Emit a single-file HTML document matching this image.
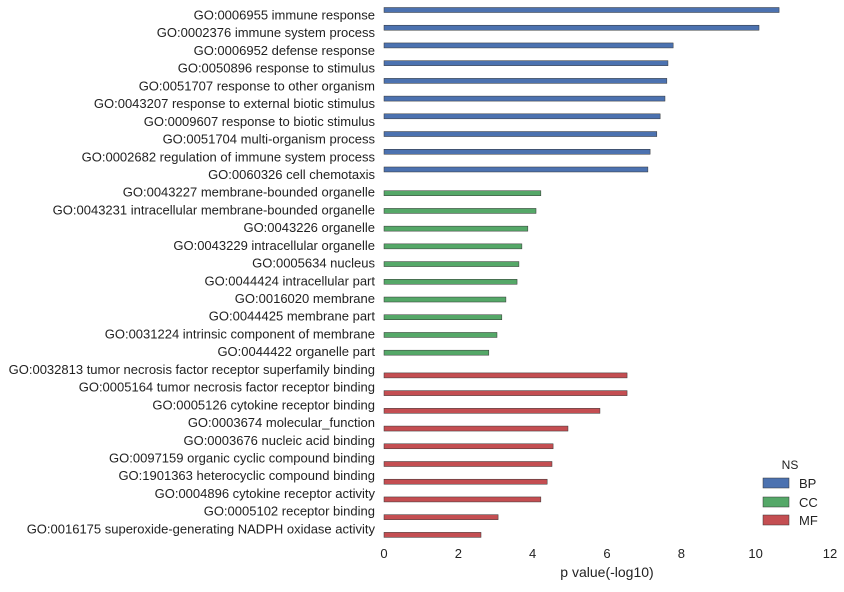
<!DOCTYPE html>
<html><head><meta charset="utf-8"><style>
body{margin:0;background:#fff;}
svg{font-family:"Liberation Sans","DejaVu Sans",sans-serif;}
</style></head><body>
<svg id="chart" width="844" height="587" xmlns="http://www.w3.org/2000/svg">
<g id="bars"></g>
<g id="labels"></g>
<g id="xticks"></g>
<text x="607" y="577" font-size="14" fill="#222" text-anchor="middle">p value(-log10)</text>
<g>
<text x="790" y="469" font-size="12" fill="#222" text-anchor="middle">NS</text>
<g><rect x="763" y="478" width="26" height="10" fill="#4c72b0" stroke="#333" stroke-width="0.5"/><text x="799" y="488" font-size="13" fill="#222">BP</text></g>
<g><rect x="763" y="497" width="26" height="10" fill="#55a868" stroke="#333" stroke-width="0.5"/><text x="799" y="507" font-size="13" fill="#222">CC</text></g>
<g><rect x="763" y="515" width="26" height="10" fill="#c44e52" stroke="#333" stroke-width="0.5"/><text x="799" y="525" font-size="13" fill="#222">MF</text></g>
</g>
</svg>
<script>
const categories=["GO:0006955 immune response","GO:0002376 immune system process","GO:0006952 defense response","GO:0050896 response to stimulus","GO:0051707 response to other organism","GO:0043207 response to external biotic stimulus","GO:0009607 response to biotic stimulus","GO:0051704 multi-organism process","GO:0002682 regulation of immune system process","GO:0060326 cell chemotaxis","GO:0043227 membrane-bounded organelle","GO:0043231 intracellular membrane-bounded organelle","GO:0043226 organelle","GO:0043229 intracellular organelle","GO:0005634 nucleus","GO:0044424 intracellular part","GO:0016020 membrane","GO:0044425 membrane part","GO:0031224 intrinsic component of membrane","GO:0044422 organelle part","GO:0032813 tumor necrosis factor receptor superfamily binding","GO:0005164 tumor necrosis factor receptor binding","GO:0005126 cytokine receptor binding","GO:0003674 molecular_function","GO:0003676 nucleic acid binding","GO:0097159 organic cyclic compound binding","GO:1901363 heterocyclic compound binding","GO:0004896 cytokine receptor activity","GO:0005102 receptor binding","GO:0016175 superoxide-generating NADPH oxidase activity"];
const namespaces=["BP","BP","BP","BP","BP","BP","BP","BP","BP","BP","CC","CC","CC","CC","CC","CC","CC","CC","CC","CC","MF","MF","MF","MF","MF","MF","MF","MF","MF","MF"];
const values=[10.63,10.09,7.78,7.64,7.61,7.56,7.43,7.34,7.16,7.10,4.22,4.09,3.87,3.71,3.63,3.58,3.28,3.17,3.04,2.82,6.54,6.54,5.81,4.95,4.55,4.52,4.39,4.22,3.07,2.61];
const xTicks=[0,2,4,6,8,10,12];
const NS="http://www.w3.org/2000/svg";
const colors={BP:"#4c72b0",CC:"#55a868",MF:"#c44e52"};
const offs={BP:-5,CC:1,MF:6};
const x=v=>384+v*(830-384)/12;
const y=i=>15+i*17.72;
const bars=document.getElementById('bars'),labels=document.getElementById('labels'),xt=document.getElementById('xticks');
categories.forEach((c,i)=>{
 const r=document.createElementNS(NS,'rect');
 r.setAttribute('x',x(0));r.setAttribute('y',y(i)+offs[namespaces[i]]-2.5);
 r.setAttribute('width',x(values[i])-x(0));r.setAttribute('height',5);
 r.setAttribute('fill',colors[namespaces[i]]);r.setAttribute('stroke','#333');r.setAttribute('stroke-width','0.5');
 
 
 bars.appendChild(r);
 const t=document.createElementNS(NS,'text');
 t.setAttribute('x',375);t.setAttribute('y',y(i)+4.5);t.setAttribute('font-size','13');t.setAttribute('fill','#222');t.setAttribute('text-anchor','end');
 t.textContent=c;
 
 
 labels.appendChild(t);
});
xTicks.forEach(v=>{
 const t=document.createElementNS(NS,'text');
 t.setAttribute('x',x(v));t.setAttribute('y',558);t.setAttribute('font-size','13');t.setAttribute('fill','#222');t.setAttribute('text-anchor','middle');
 t.textContent=v;
 
 
 xt.appendChild(t);
});
</script>
</body></html>
